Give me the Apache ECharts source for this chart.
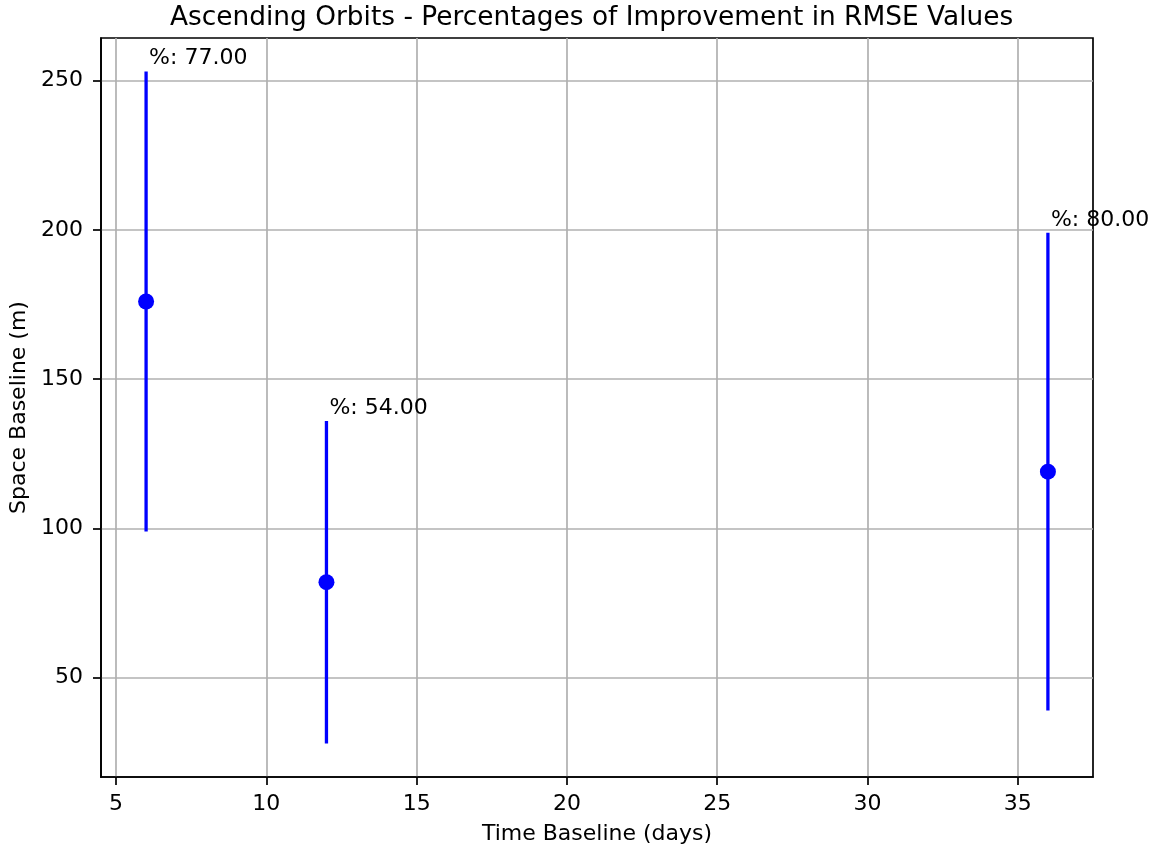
<!DOCTYPE html>
<html>
<head>
<meta charset="utf-8">
<title>Ascending Orbits</title>
<script src="https://cdn.jsdelivr.net/npm/echarts@6/dist/echarts.min.js"></script>
<style>
  html, body { margin: 0; padding: 0; background: #fff; }
  #grafico { width: 1150px; height: 854px; }
</style>
</head>
<body>
<div id="grafico"></div>
<script>
// valores
const diasBase = [6, 12, 36];
const espacoBase = [176, 82, 119];
const percentuais = [77, 54, 80];
const ticksX = [5, 10, 15, 20, 25, 30, 35];
const ticksY = [50, 100, 150, 200, 250];

const fonte = 'DejaVu Sans';

// barras de erro: o erro de cada ponto é o próprio percentual
const barras = diasBase.map((d, i) => [d, espacoBase[i], percentuais[i]]);
const pontos = diasBase.map((d, i) => [d, espacoBase[i]]);

const chart = echarts.init(document.getElementById('grafico'));

const option = {
  backgroundColor: '#ffffff',
  animation: false,
  title: {
    text: 'Ascending Orbits - Percentages of Improvement in RMSE Values',
    left: 167,
    top: 2,
    padding: 3,
    textStyle: { fontFamily: fonte, fontSize: 26.4, fontWeight: 'normal', color: '#000' },
  },
  grid: {
    left: 101,
    right: 57,
    top: 38,
    bottom: 77,
    show: true,
    borderColor: '#000',
    borderWidth: 1.7,
    backgroundColor: 'transparent',
  },
  xAxis: {
    type: 'value',
    min: 4.5,
    max: 37.5,
    name: 'Time Baseline (days)',
    nameLocation: 'middle',
    nameGap: 46,
    nameTextStyle: { fontFamily: fonte, fontSize: 22, color: '#000' },
    axisLine: { show: true, onZero: false, lineStyle: { color: '#000', width: 1.7 } },
    axisTick: { show: true, inside: false, length: 8, customValues: ticksX, lineStyle: { color: '#000', width: 1.7 } },
    axisLabel: { customValues: ticksX, margin: 16, fontFamily: fonte, fontSize: 22, color: '#000' },
    splitLine: { show: true, lineStyle: { color: '#b0b0b0', width: 1.7 } },
  },
  yAxis: {
    type: 'value',
    min: 16.75,
    max: 264.25,
    name: 'Space Baseline (m)',
    nameLocation: 'middle',
    nameGap: 71,
    nameTextStyle: { fontFamily: fonte, fontSize: 22, color: '#000' },
    axisLine: { show: true, onZero: false, lineStyle: { color: '#000', width: 1.7 } },
    axisTick: { show: true, inside: false, length: 8, customValues: ticksY, lineStyle: { color: '#000', width: 1.7 } },
    axisLabel: { customValues: ticksY, margin: 18, fontFamily: fonte, fontSize: 22, color: '#000' },
    splitLine: { show: true, lineStyle: { color: '#b0b0b0', width: 1.7 } },
  },
  series: [
    {
      name: 'erro',
      type: 'custom',
      data: barras,
      renderItem: (params, api) => {
        const x = api.value(0);
        const y = api.value(1);
        const e = api.value(2);
        const p1 = api.coord([x, y - e]);
        const p2 = api.coord([x, y + e]);
        return {
          type: 'group',
          children: [
            {
              type: 'line',
              shape: { x1: p1[0], y1: p1[1], x2: p2[0], y2: p2[1] },
              style: { stroke: '#0000ff', lineWidth: 3.3 },
            },
            {
              type: 'text',
              x: p2[0] + 3,
              y: p2[1] - 2,
              style: {
                text: '%: ' + e.toFixed(2),
                fontFamily: fonte,
                fontSize: 22,
                fill: '#000',
                align: 'left',
                verticalAlign: 'bottom',
              },
              z2: 10,
            },
          ],
        };
      },
      z: 2,
    },
    {
      name: 'pontos',
      type: 'scatter',
      data: pontos,
      symbol: 'circle',
      symbolSize: 16,
      itemStyle: { color: '#0000ff', opacity: 1 },
      z: 3,
    },
  ],
};

chart.setOption(option);
</script>
</body>
</html>
